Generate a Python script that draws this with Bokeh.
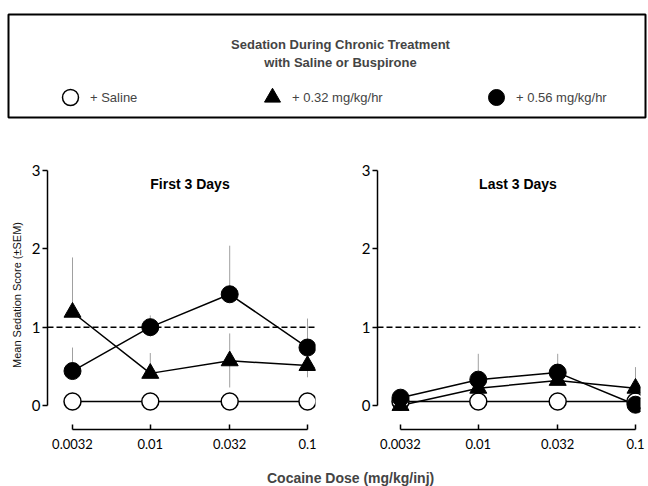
import math
from bokeh.plotting import figure
from bokeh.models import Range1d, Span, Label, Legend, LegendItem, FixedTicker
from bokeh.layouts import column, row
from bokeh.embed import file_html
from bokeh.resources import INLINE

# ---------------- data ----------------
doses = [0.0032, 0.01, 0.032, 0.1]
dose_labels = ["0.0032", "0.01", "0.032", "0.1"]
y_ticks = [0, 1, 2, 3]

# First 3 days
first_saline = [0.05, 0.05, 0.05, 0.05]
first_032 = [1.19, 0.41, 0.57, 0.51]
first_032_hi = [1.89, 0.67, 0.92, 0.51]
first_032_lo = [1.19, 0.41, 0.23, 0.51]
first_056 = [0.44, 1.00, 1.42, 0.74]
first_056_hi = [0.74, 1.15, 2.04, 1.11]
first_056_lo = [0.44, 0.88, 1.42, 0.36]

# Last 3 days
last_saline = [0.05, 0.05, 0.05, 0.05]
last_032 = [0.00, 0.22, 0.32, 0.22]
last_032_hi = [0.00, 0.22, 0.32, 0.49]
last_032_lo = [0.00, 0.22, 0.32, 0.22]
last_056 = [0.10, 0.33, 0.42, 0.01]
last_056_hi = [0.10, 0.66, 0.66, 0.01]
last_056_lo = [0.10, 0.33, 0.42, 0.01]

legend_title = ["Sedation During Chronic Treatment", "with Saline or Buspirone"]
series_labels = ["+ Saline", "+ 0.32 mg/kg/hr", "+ 0.56 mg/kg/hr"]

# ---------------- styling / geometry ----------------
PX_PER_DECADE = 157.2
PX_PER_UNIT = 78.33
PLOT_H = 346
BORDER_TOP = 40
BORDER_BOTTOM = 37
TICK_FONT = "Lato"
TEXT_FONT = "Liberation Sans"
MS = 17
NAN = float("nan")


def make_panel(width, border_left, border_right, first_tick_px, title,
               saline, s032, s032_hi, s032_lo, s056, s056_hi, s056_lo, ylabel=None):
    frame_w = width - border_left - border_right
    l0 = math.log10(doses[0])
    x_start = 10 ** (l0 - first_tick_px / PX_PER_DECADE)
    x_end = 10 ** (l0 + (frame_w - first_tick_px) / PX_PER_DECADE)
    y_end = 3 + 10 / PX_PER_UNIT
    y_start = -24 / PX_PER_UNIT
    p = figure(width=width, height=PLOT_H, x_axis_type="log",
               x_range=Range1d(x_start, x_end), y_range=Range1d(y_start, y_end),
               output_backend="svg", toolbar_location=None, tools="",
               min_border_left=border_left, min_border_right=border_right,
               min_border_top=BORDER_TOP, min_border_bottom=BORDER_BOTTOM)
    p.grid.visible = False
    p.outline_line_color = None

    xa = p.xaxis[0]
    xa.ticker = FixedTicker(ticks=doses)
    xa.major_label_overrides = {d: s for d, s in zip(doses, dose_labels)}
    xa.bounds = (doses[0], doses[-1])
    xa.major_tick_in = 5
    xa.major_tick_out = 0
    xa.minor_tick_line_color = None
    xa.axis_line_width = 1.5
    xa.major_tick_line_width = 1.5
    xa.major_label_standoff = 9
    xa.major_label_text_font = TICK_FONT
    xa.major_label_text_font_size = "13px"
    xa.major_label_text_color = "black"

    ya = p.yaxis[0]
    ya.ticker = FixedTicker(ticks=y_ticks)
    ya.bounds = (y_ticks[0], y_ticks[-1])
    ya.major_tick_in = 0
    ya.major_tick_out = 5
    ya.minor_tick_line_color = None
    ya.axis_line_width = 1.5
    ya.major_tick_line_width = 1.5
    ya.major_label_standoff = 2
    ya.major_label_text_font = TICK_FONT
    ya.major_label_text_font_size = "15px"
    ya.major_label_text_color = "black"
    if ylabel:
        ya.axis_label = ylabel
        ya.axis_label_text_font = TEXT_FONT
        ya.axis_label_text_font_size = "11px"
        ya.axis_label_text_font_style = "normal"
        ya.axis_label_text_color = "#111111"
        ya.axis_label_standoff = 6

    p.add_layout(Span(location=1, dimension="width", line_color="black",
                      line_width=1.5, line_dash="6 3"))

    # error bars
    p.segment(x0=doses, y0=s032_lo, x1=doses, y1=s032_hi, line_color="#a0a0a0", line_width=1)
    p.segment(x0=doses, y0=s056_lo, x1=doses, y1=s056_hi, line_color="#a0a0a0", line_width=1)

    # lines
    for vals in (saline, s032, s056):
        p.line(doses, vals, line_color="black", line_width=1.5)

    # markers
    p.scatter(doses, saline, marker="circle", size=MS, fill_color="white",
              line_color="black", line_width=1.5)
    p.scatter(doses, s032, marker="triangle", size=MS, fill_color="black",
              line_color="black", line_width=1)
    p.scatter(doses, s056, marker="circle", size=MS, fill_color="black",
              line_color="black", line_width=1)

    p.add_layout(Label(x=math.sqrt(doses[0] * doses[-1]), y=2.834, text=title,
                       text_align="center", text_baseline="middle",
                       text_font=TEXT_FONT, text_font_style="bold",
                       text_font_size="14px", text_color="black"))
    return p


left = make_panel(320, 47, 5, 25, "First 3 Days",
                  first_saline, first_032, first_032_hi, first_032_lo,
                  first_056, first_056_hi, first_056_lo,
                  ylabel="Mean Sedation Score (\u00b1SEM)")
right = make_panel(328, 57, 8, 23, "Last 3 Days",
                   last_saline, last_032, last_032_hi, last_032_lo,
                   last_056, last_056_hi, last_056_lo)

# ---------------- legend box ----------------
LG_W, LG_H = 648, 120
lg = figure(width=LG_W, height=LG_H, x_range=Range1d(0, 637), y_range=Range1d(0, 103),
            output_backend="svg", toolbar_location=None, tools="",
            x_axis_location=None, y_axis_location=None,
            min_border_left=8, min_border_right=3, min_border_top=14, min_border_bottom=3)
lg.grid.visible = False
lg.outline_line_color = "black"
lg.outline_line_width = 2

r_sal = lg.scatter(x=[NAN], y=[NAN], marker="circle", size=MS, fill_color="white",
                   line_color="black", line_width=1.5)
r_032 = lg.scatter(x=[NAN], y=[NAN], marker="triangle", size=MS, fill_color="black",
                   line_color="black")
r_056 = lg.scatter(x=[NAN], y=[NAN], marker="circle", size=MS, fill_color="black",
                   line_color="black")

for lab, rend, xpos in zip(series_labels, [r_sal, r_032, r_056], [42, 244, 468]):
    lg.add_layout(Legend(items=[LegendItem(label=lab, renderers=[rend])],
                         location=(xpos, 0), orientation="horizontal",
                         glyph_width=40, glyph_height=40, padding=0, margin=0,
                         border_line_color=None, background_fill_alpha=0,
                         label_text_font=TEXT_FONT, label_text_font_size="13px",
                         label_standoff=0, label_text_baseline="middle"))

for txt, ypos in zip(legend_title, [73, 55]):
    lg.add_layout(Label(x=332, y=ypos, text=txt, text_align="center",
                        text_baseline="middle", text_font=TEXT_FONT,
                        text_font_style="bold", text_font_size="13px"))

# ---------------- shared x label ----------------
xf = figure(width=648, height=20, x_range=Range1d(0, 648), y_range=Range1d(0, 20),
            output_backend="svg", toolbar_location=None, tools="",
            x_axis_location=None, y_axis_location=None,
            min_border_left=0, min_border_right=0, min_border_top=0, min_border_bottom=0)
xf.grid.visible = False
xf.outline_line_color = None
xf.add_layout(Label(x=348, y=9, text="Cocaine Dose (mg/kg/inj)", text_align="center",
                    text_baseline="middle", text_font=TEXT_FONT,
                    text_font_style="bold", text_font_size="14px"))

layout = column(lg, row(left, right), xf)
open("out.html", "w").write(file_html(layout, INLINE))
